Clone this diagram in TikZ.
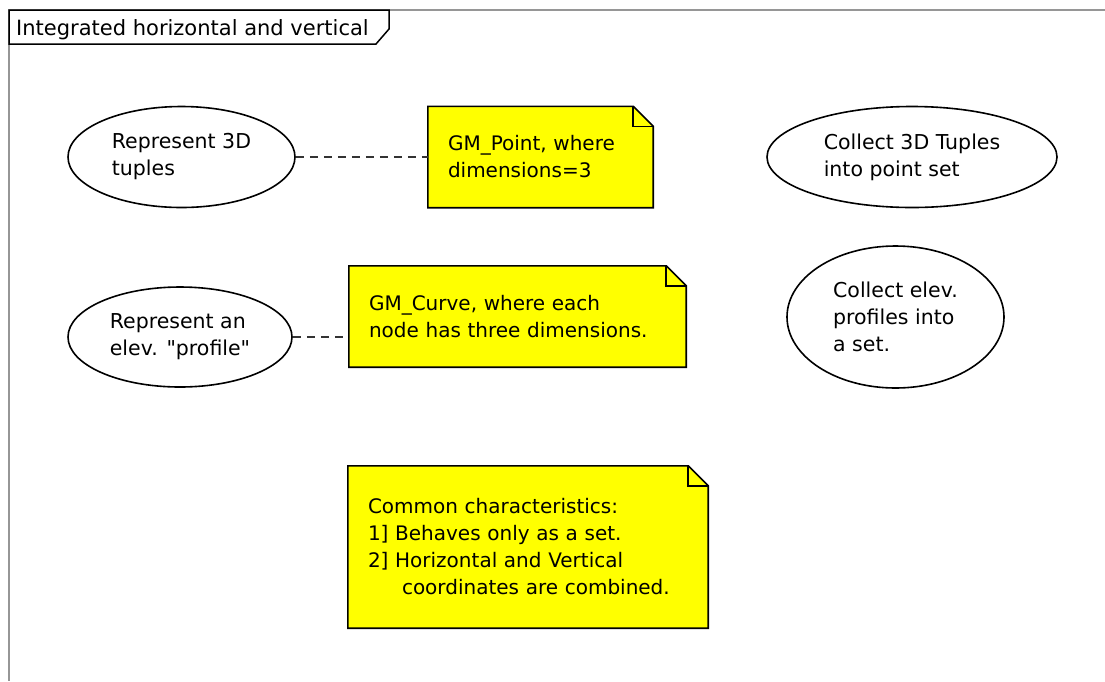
\documentclass[tikz,border=0pt]{standalone}
\usepackage{fontspec}
\setmainfont{DejaVu Sans}
\usetikzlibrary{shapes.geometric,backgrounds}
\definecolor{noteyellow}{RGB}{255,255,0}
\definecolor{framegrey}{RGB}{150,150,150}
\tikzset{
  usecase/.style={draw=black, line width=1.6pt, ellipse, inner sep=0pt, align=left,
    font=\fontsize{20.5}{27}\selectfont},
  notebox/.style={draw=none, inner sep=0pt, inner xsep=20pt, align=left,
    font=\fontsize{20}{27}\selectfont},
  notefill/.style={fill=noteyellow, draw=black, line width=1.6pt},
  notefold/.style={draw=black, line width=1.6pt},
  anchorline/.style={draw=black!80, line width=1.6pt, dash pattern=on 8pt off 6pt},
  framestyle/.style={draw=framegrey, line width=1.6pt},
  tabstyle/.style={draw=black, line width=1.5pt, fill=white},
  tabtext/.style={inner sep=0pt, anchor=base west, font=\fontsize{21}{27}\selectfont}
}
\newcommand\dognote[1]{%
  \begin{scope}[on background layer]
    \path[notefill] (#1.north west) -- ([xshift=-20pt]#1.north east)
      -- ([yshift=-20pt]#1.north east) -- (#1.south east) -- (#1.south west) -- cycle;
    \path[notefold] ([xshift=-20pt]#1.north east) -- ([xshift=-20pt,yshift=-20pt]#1.north east)
      -- ([yshift=-20pt]#1.north east);
  \end{scope}}
\begin{document}
\begin{tikzpicture}[x=1pt, y=-1pt]
\useasboundingbox (0,0) rectangle (1105,681);
% frame
\path[framestyle] (1105,10) -- (9,10) -- (9,681);
\path[tabstyle] (9,10) -- (389,10) -- (389,29) -- (376,44) -- (9,44) -- cycle;
\node[tabtext] (title) at (16,35) {Integrated horizontal and vertical};

% use cases
\node[usecase, minimum width=227pt, minimum height=101pt] (e1) at (181.5,157)
  {Represent 3D\\tuples};
\node[usecase, minimum width=224pt, minimum height=100pt] (e2) at (180,337)
  {Represent an\\elev. \textquotedbl profile\textquotedbl};
\node[usecase, minimum width=290pt, minimum height=101pt] (e3) at (912,157)
  {Collect 3D Tuples\\into point set};
\node[usecase, minimum width=217pt, minimum height=142pt] (e4) at (895.5,317)
  {Collect elev.\\profiles into\\a set.};

% notes
\node[notebox, text width=185pt, minimum height=101pt] (n1) at (540.5,157)
  {GM\_Point, where\\dimensions=3};
\dognote{n1}
\node[notebox, text width=297pt, minimum height=101pt] (n2) at (517.5,316.5)
  {GM\_Curve, where each\\node has three dimensions.};
\dognote{n2}
\node[notebox, text width=320pt, minimum height=162pt] (n3) at (528,547)
  {Common characteristics:\\1] Behaves only as a set.\\2] Horizontal and Vertical\\\hspace*{34pt}coordinates are combined.};
\dognote{n3}

% anchors
\draw[anchorline] (e1.east) -- (n1.west);
\draw[anchorline] (e2.east) -- (e2.east -| n2.west);
\end{tikzpicture}
\end{document}
